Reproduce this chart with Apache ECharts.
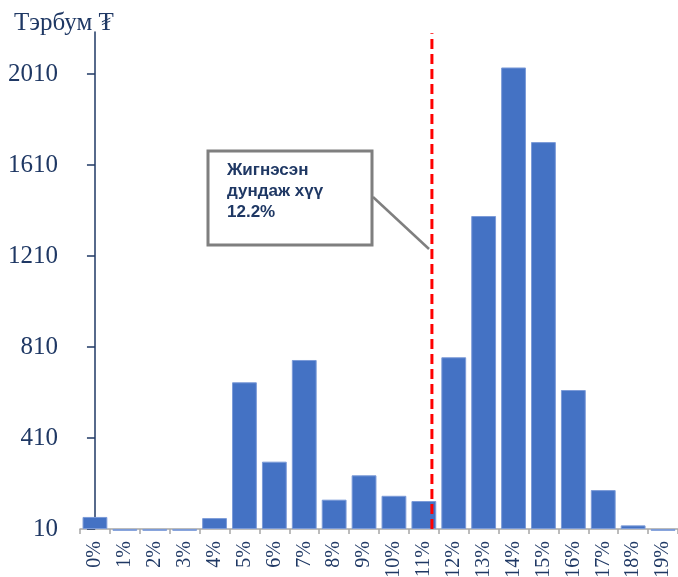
<!DOCTYPE html>
<html>
<head>
<meta charset="utf-8">
<script src="https://cdn.jsdelivr.net/npm/echarts@6/dist/echarts.min.js"></script>
<style>
  html, body { margin: 0; padding: 0; background: #fff; }
  #chart { width: 678px; height: 577px; }
</style>
</head>
<body>
<div id="chart"></div>
<script>
const categories = ['0%', '1%', '2%', '3%', '4%', '5%', '6%', '7%', '8%', '9%',
  '10%', '11%', '12%', '13%', '14%', '15%', '16%', '17%', '18%', '19%']
const amounts = [63, 2, 2, 2, 58, 655, 306, 753, 139, 246,
  156, 133, 765, 1386, 2039, 1711, 621, 181, 26, 2]
const yTicks = [10, 410, 810, 1210, 1610, 2010]
const yMin = 10
const yMax = 2195
// dashed line for the weighted average rate, position on the category scale
const avgLinePos = 11.27
const avgLineTop = 2190
const avgLabel = ['Жигнэсэн', 'дундаж хүү', '12.2%']

const navy = '#1F3864'
const serif = '"Liberation Serif", "DejaVu Serif", serif'

const chart = echarts.init(document.getElementById('chart'))
chart.setOption({
  animation: false,
  backgroundColor: '#fff',
  title: {
    text: 'Тэрбум ₮',
    left: 9,
    top: 6,
    textStyle: { fontFamily: serif, fontSize: 25, fontWeight: 'normal', color: navy }
  },
  grid: { left: 80, right: 0, top: 32, bottom: 48, outerBoundsMode: 'none', containLabel: false },
  xAxis: [
    {
      type: 'category',
      data: categories,
      axisLine: { lineStyle: { color: '#A6A6A6', width: 1.5 } },
      axisTick: { show: true, length: 5, lineStyle: { color: '#A6A6A6', width: 1.5 } },
      axisLabel: { rotate: 90, margin: 12, fontFamily: serif, fontSize: 20, color: navy }
    },
    {
      type: 'value',
      min: -0.5,
      max: categories.length - 0.5,
      show: false
    }
  ],
  yAxis: {
    type: 'value',
    min: yMin,
    max: yMax,
    startValue: yMin,
    splitLine: { show: false },
    axisLine: { show: true, lineStyle: { color: navy, width: 1.5 } },
    axisTick: { show: true, length: 8, customValues: yTicks, lineStyle: { color: navy, width: 1.5 } },
    axisLabel: {
      customValues: yTicks,
      formatter: (v) => String(v),
      margin: 22,
      fontFamily: serif,
      fontSize: 25,
      color: navy
    }
  },
  graphic: [
    {
      type: 'rect',
      shape: { x: 208, y: 151, width: 164, height: 94 },
      style: { fill: '#fff', stroke: '#7F7F7F', lineWidth: 3 },
      z: 10
    },
    {
      type: 'text',
      left: 227,
      top: 160,
      style: {
        text: avgLabel.join('\n'),
        font: 'bold 17px "Liberation Sans", Arial, sans-serif',
        lineHeight: 21,
        fill: navy
      },
      z: 11
    },
    {
      type: 'line',
      shape: { x1: 373, y1: 197, x2: 429, y2: 249 },
      style: { stroke: '#7F7F7F', lineWidth: 2.5 },
      z: 10
    }
  ],
  series: [
    {
      type: 'bar',
      data: amounts,
      clip: false,
      barCategoryGap: '17%',
      itemStyle: { color: '#4472C4', borderColor: '#7C9BD8', borderWidth: 1 }
    },
    {
      type: 'line',
      xAxisIndex: 1,
      data: [[avgLinePos, yMin], [avgLinePos, avgLineTop]],
      symbol: 'none',
      lineStyle: { color: '#FF0000', width: 3, type: [10, 5] },
      z: 5
    }
  ]
})
</script>
</body>
</html>
